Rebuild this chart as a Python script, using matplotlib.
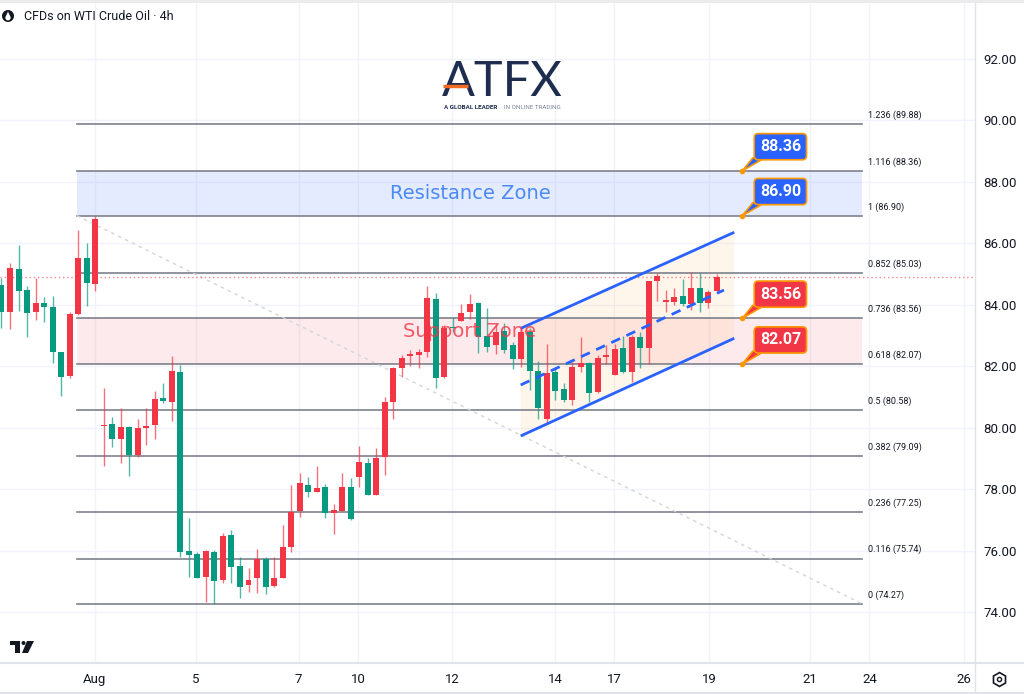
import numpy as np
import matplotlib
matplotlib.use("Agg")
import matplotlib.pyplot as plt
from matplotlib.patches import Polygon, Circle, Rectangle

plt.rcParams['font.family'] = ['Roboto', 'DejaVu Sans']

# ---- candles (4h bars) ----
opens = [84.64, 83.77, 85.16, 84.48, 83.76, 84.07, 83.92, 82.46, 81.68, 83.71,
         85.51, 84.68, 80.04, 80.11, 79.63, 80.03, 79.12, 79.98, 80.08, 80.97,
         80.83, 81.82, 75.97, 75.89, 75.15, 75.95, 75.04, 76.52, 75.50, 74.87,
         75.12, 75.71, 74.85, 75.12, 76.10, 77.30, 78.15, 77.90, 78.06, 77.23,
         77.30, 78.06, 78.38, 78.86, 77.81, 79.03, 80.85, 81.95, 82.33, 82.38,
         82.45, 84.19, 81.64, 83.26, 83.47, 83.77, 84.05, 82.98, 82.69, 83.16,
         82.69, 82.25, 83.10, 81.84, 80.28, 81.80, 81.25, 80.90, 81.98, 82.09,
         81.15, 82.29, 81.71, 82.58, 81.80, 82.94, 82.60, 84.77, 84.08, 84.09,
         84.29, 84.02, 84.56, 84.05, 84.45]
highs = [84.87, 85.37, 85.95, 84.62, 84.86, 84.26, 84.29, 82.46, 83.77, 86.43,
         86.02, 86.90, 81.28, 80.36, 80.63, 80.05, 80.28, 80.63, 81.19, 81.44,
         82.33, 82.04, 77.05, 75.96, 76.02, 76.02, 76.56, 76.67, 75.80, 75.42,
         76.04, 75.78, 75.78, 76.83, 78.13, 78.51, 78.38, 78.74, 78.17, 77.50,
         78.51, 78.35, 79.41, 79.00, 79.33, 80.99, 81.98, 82.36, 82.53, 82.55,
         84.61, 84.37, 83.34, 83.59, 84.01, 84.35, 84.09, 83.88, 83.34, 83.40,
         82.80, 83.24, 83.23, 82.17, 82.72, 81.98, 81.44, 82.15, 82.96, 82.15,
         82.36, 82.69, 82.72, 82.99, 83.02, 83.12, 84.78, 85.02, 84.48, 84.54,
         84.84, 85.06, 85.02, 84.48, 85.00]
lows = [83.23, 83.20, 83.81, 82.96, 83.50, 83.45, 82.09, 81.04, 81.61, 83.68,
        83.96, 84.46, 78.76, 79.36, 78.86, 78.43, 79.03, 79.44, 79.62, 80.79,
        80.22, 75.78, 75.15, 75.10, 74.32, 74.27, 74.93, 74.93, 74.44, 74.65,
        74.63, 74.57, 74.82, 75.10, 75.94, 77.09, 77.73, 77.89, 77.05, 76.53,
        77.28, 77.00, 78.08, 77.80, 77.80, 78.46, 80.27, 81.66, 82.01, 81.93,
        82.31, 81.28, 81.62, 83.12, 83.46, 83.53, 82.44, 82.47, 82.40, 82.42,
        81.90, 81.97, 81.23, 80.28, 80.14, 80.90, 80.85, 80.74, 81.82, 80.85,
        81.13, 82.07, 81.70, 81.79, 81.50, 81.93, 82.06, 84.13, 83.77, 83.99,
        83.96, 83.83, 83.77, 83.88, 84.44]
closes = [83.77, 85.21, 84.45, 83.74, 84.05, 83.92, 82.45, 81.66, 83.70, 85.53,
          84.70, 86.79, 80.07, 79.62, 80.01, 79.12, 79.98, 80.04, 80.94, 80.87,
          81.84, 75.94, 75.85, 75.11, 75.97, 75.01, 76.48, 75.46, 74.82, 75.04,
          75.72, 74.82, 75.12, 76.10, 77.27, 78.20, 77.90, 78.02, 77.23, 77.32,
          78.08, 77.02, 78.87, 77.81, 79.00, 80.82, 81.93, 82.28, 82.40, 82.45,
          84.21, 81.63, 83.23, 83.23, 83.74, 84.01, 82.96, 82.63, 83.10, 82.53,
          82.23, 83.12, 81.84, 80.63, 81.79, 81.19, 80.90, 81.96, 82.09, 81.14,
          82.26, 82.36, 82.56, 81.82, 82.96, 82.60, 84.77, 84.94, 84.10, 84.26,
          84.02, 84.54, 84.07, 84.42, 84.89]

# time axis labels (bar index positions)
tick_pos = [10.93, 22.83, 34.89, 41.85, 52.89, 65.04, 71.9, 83.06, 94.9, 101.9, 113.0]
tick_labels = ['Aug', '5', '7', '10', '12', '14', '17', '19', '21', '24', '26']
price_ticks = [74, 76, 78, 80, 82, 84, 86, 88, 90, 92]

# fibonacci retracement 86.90 -> 74.27
fib_ratios = ['0', '0.116', '0.236', '0.382', '0.5', '0.618', '0.736', '0.852', '1', '1.116', '1.236']
fib_levels = [74.27, 75.74, 77.25, 79.09, 80.58, 82.07, 83.56, 85.03, 86.90, 88.36, 89.88]
fib_start, fib_end = 8.86, 101.0

# channel anchors (bar index, price)
chan_upper = [(60.95, 83.23), (86.03, 86.36)]
chan_lower = [(60.95, 79.73), (86.03, 82.91)]
chan_mid = [(60.95, 81.39), (84.82, 84.48)]

# price callouts
tag_levels = [88.36, 86.90, 83.56, 82.07]
tag_colors = ['#2962FF', '#2962FF', '#F23645', '#F23645']

UP = '#F23645'
DOWN = '#089981'
GRID = '#F0F3FA'

fig = plt.figure(figsize=(10.24, 6.94), dpi=100)
ax = fig.add_axes([0, 31 / 694, 975 / 1024, 660 / 694])
ax.set_xlim(-0.176, 114.29)
ax.set_ylim(72.34, 93.823)

for s in ax.spines.values():
    s.set_visible(False)
for p in price_ticks:
    ax.axhline(p, color=GRID, lw=1, zorder=0)
for t in tick_pos:
    ax.axvline(t, color=GRID, lw=1, zorder=0)

# zones
ax.fill_between([fib_start, fib_end], fib_levels[8], fib_levels[9], color='#2962FF', alpha=0.12, lw=0, zorder=1)
ax.fill_between([fib_start, fib_end], fib_levels[5], fib_levels[6], color='#F23645', alpha=0.10, lw=0, zorder=1)

# channel fill
(ux0, uy0), (ux1, uy1) = chan_upper
(lx0, ly0), (lx1, ly1) = chan_lower
ax.add_patch(Polygon([(ux0, uy0), (ux1, uy1), (lx1, ly1), (lx0, ly0)], closed=True,
                     fc='#FF9800', alpha=0.08, lw=0, zorder=1))

# fib lines and labels
for r, lv in zip(fib_ratios, fib_levels):
    ax.plot([fib_start, fib_end], [lv, lv], color='#7E818B', lw=1.2, zorder=2)
    ax.text(101.7, lv + 0.29, f'{r} ({lv:.2f})', fontsize=6.5, color='#131722',
            ha='left', va='center')
ax.plot([fib_start, fib_end], [fib_levels[8], fib_levels[0]], color='#D3D5DA', lw=1,
        ls=(0, (2.5, 3)), zorder=2)

# last price line
ax.axhline(closes[-1], color=UP, lw=1, ls=(0, (1, 2)), alpha=0.6, zorder=2)

# candles
x = np.arange(len(opens))
o = np.array(opens)
c = np.array(closes)
cols = [UP if cc >= oo else DOWN for oo, cc in zip(o, c)]
ax.vlines(x, lows, highs, colors=cols, lw=1, alpha=0.7, zorder=3)
body_lo = np.minimum(o, c)
body_h = np.maximum(np.abs(c - o), 0.06)
ax.bar(x, body_h, bottom=body_lo, width=0.7, color=cols, lw=0, zorder=4)

# channel lines
ax.plot(*zip(*chan_upper), color='#2962FF', lw=2, zorder=5, solid_capstyle='butt')
ax.plot(*zip(*chan_lower), color='#2962FF', lw=2, zorder=5, solid_capstyle='butt')
ax.plot(*zip(*chan_mid), color='#2962FF', lw=2, ls=(0, (3.5, 2.5)), zorder=5)

# zone labels
ax.text(55.0, 87.62, 'Resistance Zone', fontsize=14, color='#4A8AF4', ha='center',
        va='center', zorder=6, family=['DejaVu Sans'])
ax.text(55.0, 83.12, 'Support Zone', fontsize=14, color='#F23645', alpha=0.8,
        ha='center', va='center', zorder=6, family=['DejaVu Sans'])

# callouts
for lv, col in zip(tag_levels, tag_colors):
    ax.add_patch(Polygon([(88.2, lv + 0.42), (89.6, lv + 0.42), (86.97, lv)], closed=True,
                         fc=col, ec='#FF9800', lw=1.2, zorder=7))
    ax.plot(86.97, lv, 'o', ms=3, color='#FF9800', zorder=8)
    ax.text(91.44, lv + 0.786, f'{lv:.2f}', fontsize=11.5, fontweight='bold', color='white',
            ha='center', va='center', zorder=9,
            bbox=dict(boxstyle='round,pad=0.35,rounding_size=0.25', fc=col, ec='#FF9800', lw=1.2))

# axes ticks
ax.yaxis.tick_right()
ax.set_yticks(price_ticks)
ax.set_yticklabels([f'{p:.2f}' for p in price_ticks])
ax.set_xticks(tick_pos)
ax.set_xticklabels(tick_labels)
ax.tick_params(axis='y', length=0, pad=6, labelsize=9.5, labelcolor='#131722')
ax.tick_params(axis='x', length=0, pad=7, labelsize=9.5, labelcolor='#131722')

# ---- overlay in pixel coordinates ----
ov = fig.add_axes([0, 0, 1, 1], zorder=10)
ov.set_xlim(0, 1024)
ov.set_ylim(694, 0)
ov.axis('off')

ov.add_patch(Rectangle((0, 0), 1024, 3, fc='#EBEBEB', lw=0))
ov.plot([975, 975], [3, 692], color='#E0E3EB', lw=1)
ov.plot([0, 1024], [663, 663], color='#E0E3EB', lw=1.5)
ov.plot([0, 1024], [692.5, 692.5], color='#E0E3EB', lw=1.5)

# header
ov.add_patch(Circle((8, 16), 6, fc='#131722', lw=0))
ov.add_patch(Circle((8, 17.8), 2.6, fc='white', lw=0))
ov.add_patch(Polygon([(5.6, 17), (10.4, 17), (8, 11.5)], closed=True, fc='white', lw=0))
ov.text(23.5, 16, 'CFDs on WTI Crude Oil · 4h', fontsize=9, color='#131722', va='center', ha='left')

# ATFX logo
ov.text(442, 96, 'ATFX', fontsize=35, color='#1E2D4F', family=['Lato', 'DejaVu Sans'],
        fontweight='normal', ha='left', va='baseline')
ov.plot([443, 468], [86, 86], color='#F26B21', lw=2.5, solid_capstyle='butt', zorder=5)
ov.text(444, 107, 'A GLOBAL LEADER', fontsize=4.5, fontweight='bold', color='#1E2D4F', va='center')
ov.text(504, 107, 'IN ONLINE TRADING', fontsize=4.5, color='#7D8592', va='center')

# TradingView mark
ov.add_patch(Rectangle((10, 641), 10, 4, fc='#131722', lw=0))
ov.add_patch(Rectangle((15, 641), 5, 12, fc='#131722', lw=0))
ov.add_patch(Circle((23.5, 643), 2, fc='#131722', lw=0))
ov.add_patch(Polygon([(27, 641), (34, 641), (28, 653), (22, 653)], closed=True, fc='#131722', lw=0))

# settings icon
ov.plot(999, 679, marker='h', ms=10, mfc='white', mec='#131722', mew=1.2)
ov.plot(999, 679, marker='o', ms=3, mfc='white', mec='#131722', mew=1)

fig.savefig('out.png', dpi=100)
